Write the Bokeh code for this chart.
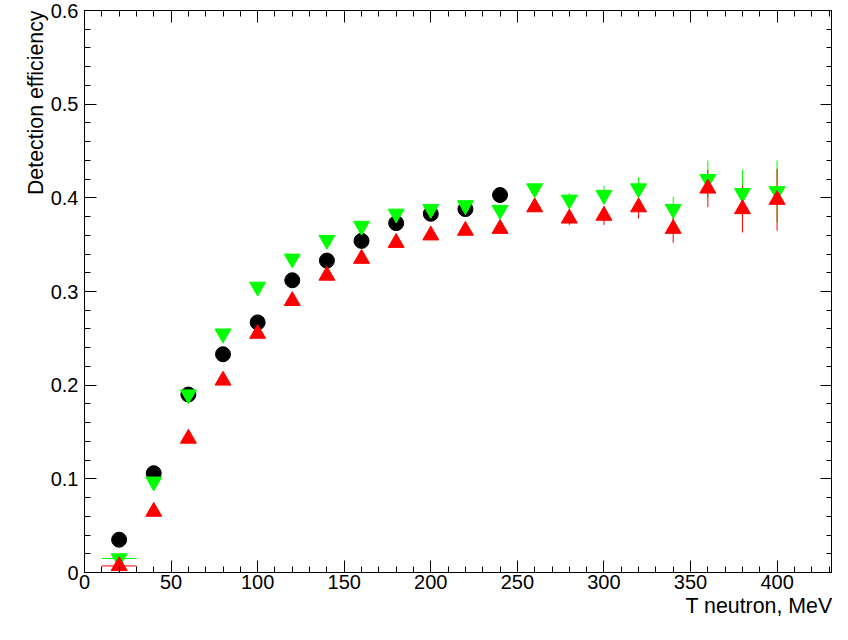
from bokeh.plotting import figure
from bokeh.models import Range1d, LinearAxis, Title, Whisker, ColumnDataSource, FixedTicker
from bokeh.embed import file_html
from bokeh.resources import INLINE

x_black = [20, 40, 60, 80, 100, 120, 140, 160, 180, 200, 220, 240]
y_black = [0.035, 0.106, 0.19, 0.233, 0.267, 0.312, 0.333, 0.354, 0.373, 0.383, 0.388, 0.403]
e_black = [0.004, 0.005, 0.005, 0.005, 0.005, 0.005, 0.005, 0.005, 0.006, 0.006, 0.007, 0.008]

x_tn = [20, 40, 60, 80, 100, 120, 140, 160, 180, 200, 220, 240, 260, 280, 300, 320, 340, 360, 380, 400]
y_green = [0.015, 0.097, 0.19, 0.255, 0.305, 0.335, 0.355, 0.37, 0.383, 0.388, 0.392, 0.387,
           0.41, 0.398, 0.403, 0.41, 0.388, 0.42, 0.405, 0.407]
e_green = [0.003, 0.003, 0.004, 0.004, 0.004, 0.004, 0.004, 0.004, 0.004, 0.004, 0.005, 0.005,
           0.005, 0.007, 0.01, 0.012, 0.013, 0.02, 0.025, 0.033]
y_red = [0.007, 0.065, 0.143, 0.205, 0.255, 0.29, 0.317, 0.335, 0.352, 0.36, 0.365, 0.367,
         0.39, 0.378, 0.381, 0.39, 0.367, 0.41, 0.388, 0.398]
e_red = [0.002, 0.003, 0.003, 0.004, 0.004, 0.004, 0.004, 0.004, 0.004, 0.004, 0.005, 0.005,
         0.005, 0.007, 0.01, 0.012, 0.015, 0.02, 0.025, 0.033]

x_ticks = list(range(0, 451, 50))
x_minor = list(range(0, 433, 10))
y_ticks = [0, 0.1, 0.2, 0.3, 0.4, 0.5, 0.6]
y_minor = [round(i * 0.02, 2) for i in range(31)]

p = figure(width=832, height=624, output_backend="svg", toolbar_location=None,
           x_range=Range1d(0, 432), y_range=Range1d(0, 0.6),
           min_border_left=84, min_border_right=0, min_border_top=10, min_border_bottom=52)
p.grid.visible = False
p.outline_line_color = "black"

for ax in [p.xaxis[0], p.yaxis[0]]:
    ax.major_tick_in = 12
    ax.major_tick_out = 0
    ax.minor_tick_in = 6
    ax.minor_tick_out = 0
    ax.major_label_text_font = "Liberation Sans"
    ax.major_label_text_font_size = "15pt"
    ax.major_label_text_color = "black"
p.xaxis.ticker = FixedTicker(ticks=x_ticks, minor_ticks=x_minor)
p.yaxis.ticker = FixedTicker(ticks=y_ticks, minor_ticks=y_minor)
p.xaxis.major_label_standoff = 2
p.yaxis.major_label_standoff = 6

# mirrored ticks on top and right, ROOT style
top = LinearAxis(ticker=FixedTicker(ticks=x_ticks, minor_ticks=x_minor),
                 major_label_overrides={t: "" for t in x_ticks})
right = LinearAxis(ticker=FixedTicker(ticks=y_ticks, minor_ticks=y_minor),
                   major_label_overrides={t: "" for t in y_ticks})
for a in [top, right]:
    a.major_tick_in = 12
    a.major_tick_out = 0
    a.minor_tick_in = 6
    a.minor_tick_out = 0
    a.major_label_standoff = 0
    a.major_label_text_font_size = "1px"
p.add_layout(top, "above")
p.add_layout(right, "right")

p.add_layout(Title(text="T neutron, MeV", align="right", text_font="Liberation Sans",
                   text_font_size="16pt", text_font_style="normal", text_color="black",
                   standoff=0), "below")
p.add_layout(Title(text="Detection efficiency", align="right", text_font="Liberation Sans",
                   text_font_size="16pt", text_font_style="normal", text_color="black",
                   standoff=0), "left")

def errs(x, y, e, color, xerr=None):
    src = ColumnDataSource(dict(x=x, lo=[a - b for a, b in zip(y, e)], hi=[a + b for a, b in zip(y, e)]))
    p.add_layout(Whisker(source=src, base="x", lower="lo", upper="hi", line_color=color,
                         upper_head=None, lower_head=None))
    if xerr:
        p.segment(x0=[x[0] - xerr], x1=[x[0] + xerr], y0=[y[0]], y1=[y[0]], line_color=color)

errs(x_tn, y_green, e_green, "#00ff00", xerr=10)
errs(x_tn, y_red, e_red, "#ff0000", xerr=10)
errs(x_black, y_black, e_black, "black")

p.scatter(x_black, y_black, marker="circle", size=15, color="black")
p.scatter(x_tn, y_green, marker="inverted_triangle", size=16, color="#00ff00")
p.scatter(x_tn, y_red, marker="triangle", size=16, color="#ff0000")

open("out.html", "w").write(file_html(p, INLINE))
